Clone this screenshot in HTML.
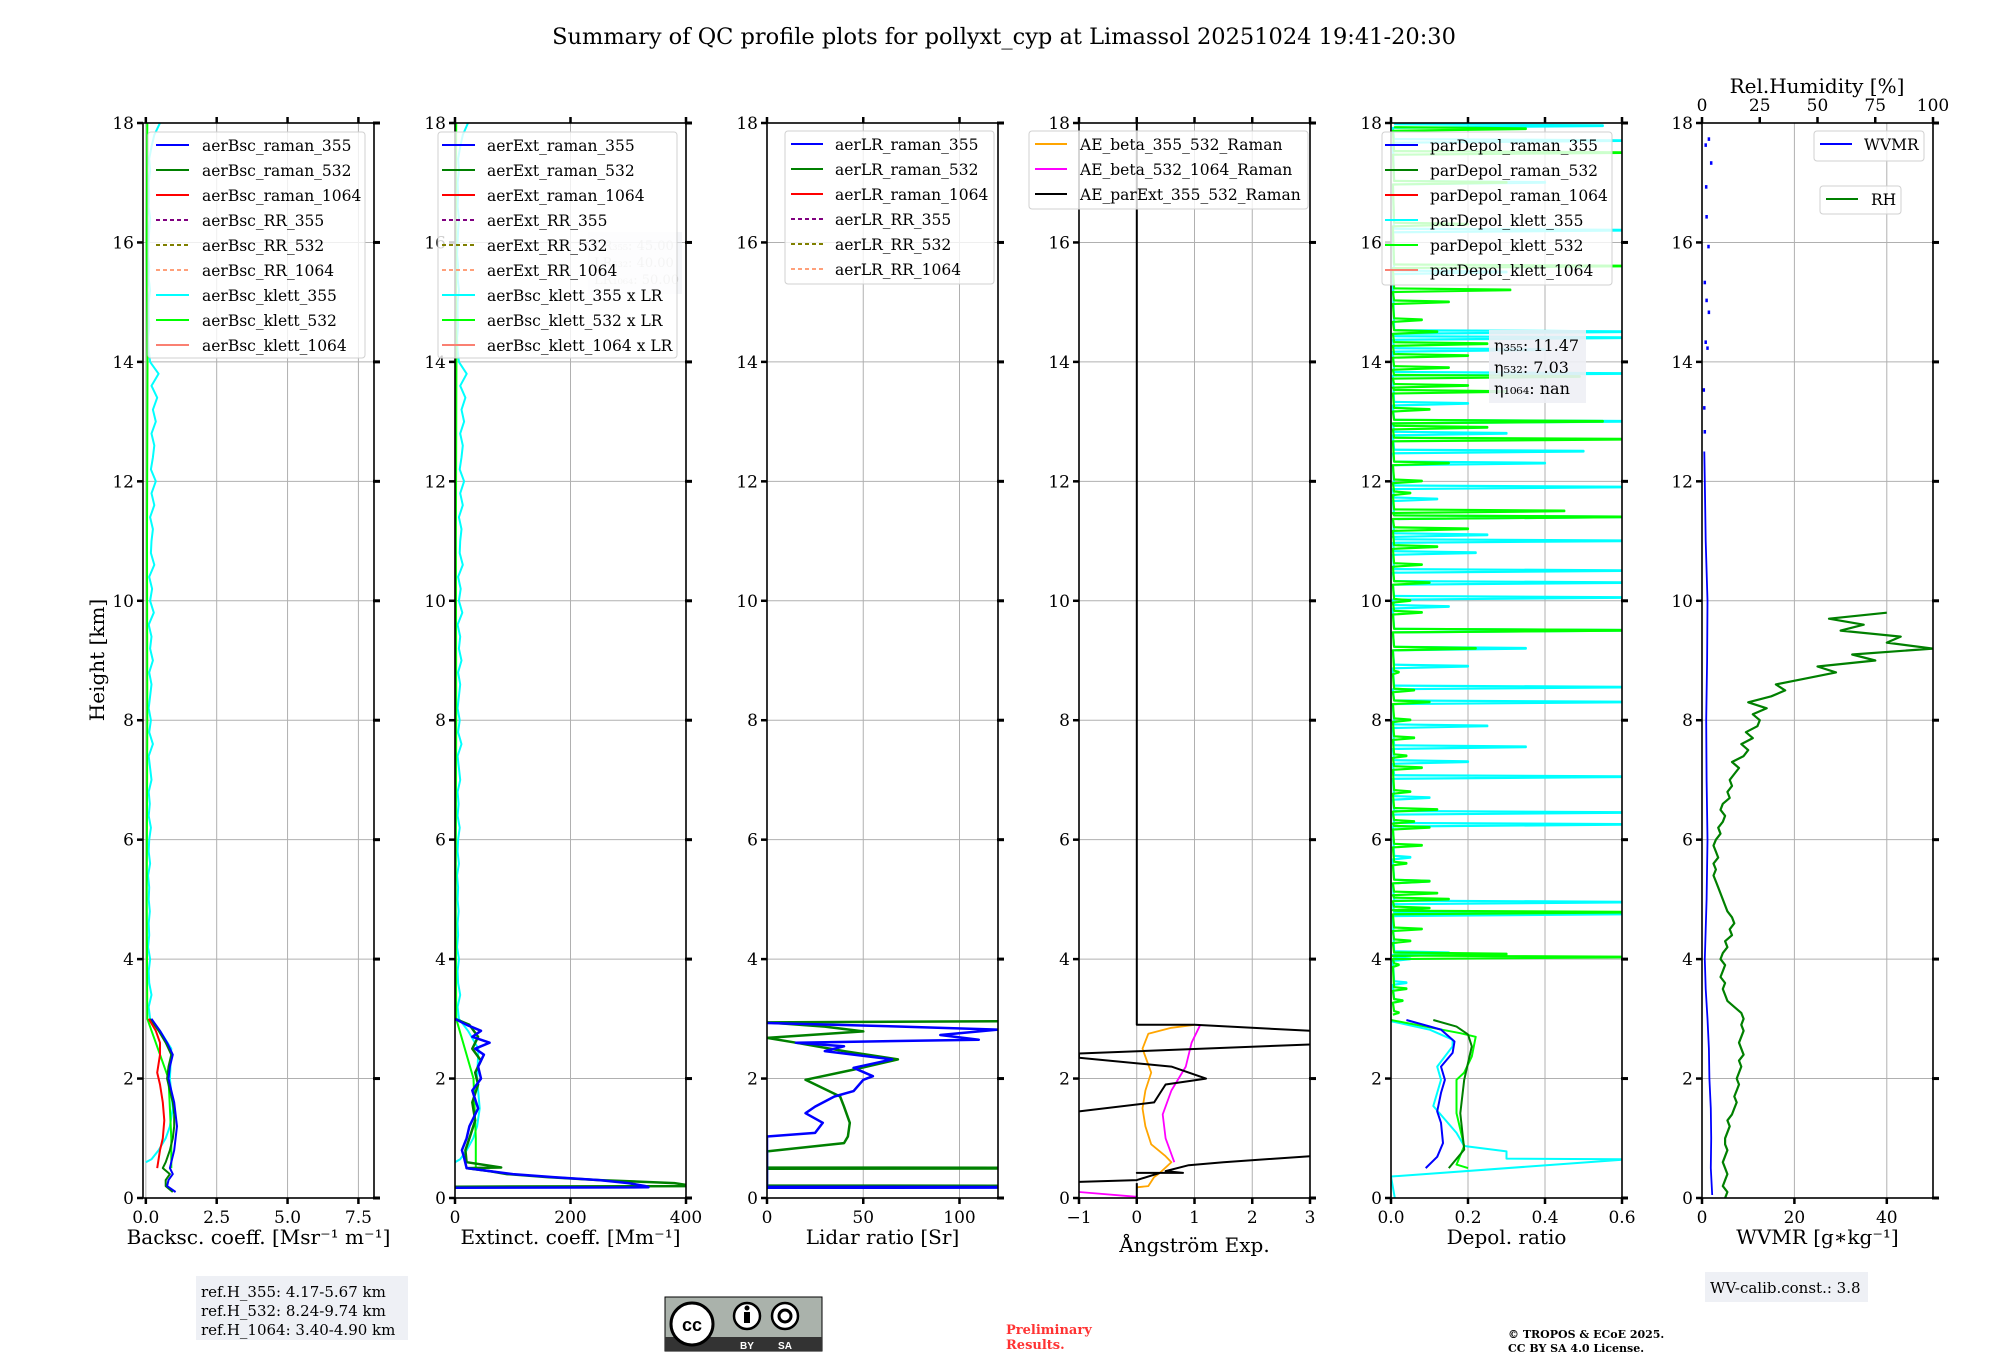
<!DOCTYPE html>
<html><head><meta charset="utf-8">
<style>
html,body{margin:0;padding:0;background:#fff;}
svg{display:block;font-family:"DejaVu Serif","Liberation Serif",serif;}
</style></head>
<body>
<svg id="fig" width="2000" height="1360" viewBox="0 0 2000 1360" xmlns="http://www.w3.org/2000/svg">
<rect x="0" y="0" width="2000" height="1360" fill="#fff"/>
<text x="1004" y="44" font-size="22.5" text-anchor="middle">Summary of QC profile plots for pollyxt_cyp at Limassol 20251024 19:41-20:30</text>
<text transform="translate(104,660) rotate(-90)" font-size="20" text-anchor="middle">Height [km]</text>
<g id="plots"></g>
<rect x="196" y="1276" width="212" height="64" fill="#eef0f5"/>
<text x="201" y="1297" font-size="15">ref.H_355: 4.17-5.67 km</text>
<text x="201" y="1316" font-size="15">ref.H_532: 8.24-9.74 km</text>
<text x="201" y="1335" font-size="15">ref.H_1064: 3.40-4.90 km</text>
<g>
<rect x="665" y="1297" width="157" height="54" fill="#aab2ab" stroke="#000" stroke-width="1"/>
<rect x="665" y="1337" width="157" height="14" fill="#333"/>
<circle cx="692" cy="1324" r="21" fill="#fff" stroke="#000" stroke-width="3"/>
<text x="692" y="1331" font-size="18" font-weight="bold" text-anchor="middle" font-family="Liberation Sans, sans-serif">cc</text>
<circle cx="747" cy="1316" r="13" fill="#fff" stroke="#000" stroke-width="2.5"/>
<circle cx="747" cy="1308" r="2.5" fill="#000"/><rect x="744" y="1312" width="6" height="11" fill="#000"/>
<circle cx="785" cy="1316" r="13" fill="#fff" stroke="#000" stroke-width="2.5"/>
<circle cx="785" cy="1316" r="6" fill="none" stroke="#000" stroke-width="3"/>
<text x="747" y="1349" font-size="10" fill="#fff" text-anchor="middle" font-family="Liberation Sans, sans-serif" font-weight="bold">BY</text>
<text x="785" y="1349" font-size="10" fill="#fff" text-anchor="middle" font-family="Liberation Sans, sans-serif" font-weight="bold">SA</text>
</g>
<text x="1006" y="1334" font-size="13" font-weight="bold" fill="#ff3333">Preliminary</text>
<text x="1006" y="1349" font-size="13" font-weight="bold" fill="#ff3333">Results.</text>
<text x="1508" y="1338" font-size="11" font-weight="bold">© TROPOS &amp; ECoE 2025.</text>
<text x="1508" y="1352" font-size="11" font-weight="bold">CC BY SA 4.0 License.</text>
<rect x="1705" y="1272" width="163" height="30" fill="#eef0f5"/>
<text x="1710" y="1293" font-size="15">WV-calib.const.: 3.8</text>
</svg>
<script>
const yTicks=[0,2,4,6,8,10,12,14,16,18];
const klettLowH=[0.6,0.65,0.8,1.0,1.2,1.5,2.0,2.5,2.8,3.0];
const klettLowV=[0.0,0.2,0.45,0.7,0.85,0.95,0.85,0.9,0.5,0.15];
const klettUpV=[0.15,0.1,0.2,0.12,0.1,0.15,0.08,0.12,0.1,0.14,0.1,0.12,0.08,0.15,0.1,0.12,0.18,0.1,0.14,0.1,0.2,0.15,0.1,0.25,0.12,0.18,0.1,0.15,0.2,0.12,0.25,0.15,0.2,0.1,0.28,0.15,0.22,0.12,0.3,0.18,0.2,0.25,0.15,0.3,0.2,0.35,0.18,0.25,0.3,0.2,0.35,0.25,0.4,0.2,0.45,0.15,0.1,0.08,0.12,0.1,0.1,0.15,0.1,0.12,0.08,0.1,0.12,0.15,0.1,0.12,0.1,0.15,0.12,0.2,0.3,0.5];
const bscRaman355H=[0.1,0.2,0.3,0.4,0.5,0.6,0.8,1.0,1.2,1.4,1.6,1.8,2.0,2.2,2.4,2.6,2.8,3.0];
const bscRaman355V=[1.05,0.75,0.8,0.95,0.85,0.9,1.0,1.05,1.1,1.05,1.0,0.9,0.8,0.85,0.95,0.75,0.5,0.2];
const bscRaman532V=[0.95,0.7,0.7,0.85,0.6,0.7,0.85,0.95,1.0,1.0,0.95,0.85,0.75,0.8,0.9,0.7,0.45,0.15];
const bscRaman1064H=[0.5,0.8,1.0,1.3,1.6,1.9,2.1,2.4,2.6,2.8,3.0];
const bscRaman1064V=[0.4,0.5,0.6,0.65,0.6,0.5,0.4,0.5,0.5,0.35,0.1];
const bscKlett532H=[0.5,1.0,2.0,3.0,5.0,8.0,11.0,14.0,16.0,18.0];
const bscKlett532V=[0.9,0.9,0.8,0.05,0.03,0.05,0.04,0.06,0.03,0.05];
const LR355=45;
const ext355H=[0.17,0.18,0.2,0.25,0.3,0.35,0.4,0.45,0.5,0.7,0.8,1.0,1.2,1.5,1.8,2.0,2.2,2.4,2.5,2.6,2.7,2.8,2.9,3.0];
const ext355V=[0,335,330,300,250,170,100,60,20,15,12,20,25,40,30,45,40,50,35,60,30,45,20,0];
const ext532H=[0.19,0.2,0.22,0.25,0.3,0.35,0.4,0.45,0.5,0.51,0.6,0.8,1.0,1.3,1.6,1.9,2.1,2.3,2.5,2.7,2.9,3.0];
const ext532V=[0,400,400,380,250,160,90,60,20,80,20,18,25,35,30,40,35,45,30,40,25,0];
const lr355H=[0.17,0.18,0.19,1.03,1.09,1.26,1.42,1.53,1.7,1.79,1.98,2.04,2.18,2.32,2.46,2.54,2.6,2.65,2.73,2.82,2.87,2.93];
const lr355V=[0,300,0,0,25,29,20,25,35,45,50,55,45,65,30,40,15,110,90,120,70,0];
const lr532H=[0.19,0.2,0.21,0.49,0.5,0.51,0.78,0.92,1.03,1.26,1.53,1.7,1.98,2.15,2.32,2.46,2.6,2.68,2.79,2.87,2.94,2.96];
const lr532V=[0,300,0,0,300,0,0,40,42,43,40,38,20,45,68,40,15,0,50,30,0,120];
const aeExtH=[18,2.9,2.9,2.8,2.6,2.57,2.42,2.35,2.2,2.0,1.9,1.75,1.6,1.45,1.4,0.27,0.3,0.42,0.42,0.42,0.45,0.55,0.6,0.7,0.72];
const aeExtV=[0,0,1.0,3.0,6,3.0,-1,-1,0.6,1.2,0.5,0.4,0.3,-1,-2,-1,0,0.4,0.0,0.8,0.5,0.9,1.5,3.0,4];
const ae355532H=[0.18,0.2,0.35,0.42,0.6,0.7,0.9,1.2,1.5,1.8,2.1,2.5,2.75,2.85,2.9];
const ae355532V=[0,0.2,0.3,0.4,0.6,0.5,0.25,0.15,0.1,0.15,0.25,0.1,0.2,0.6,1.0];
const ae5321064H=[0.1,0.02,0.02,0.6,1.0,1.4,1.8,2.2,2.6,2.9];
const ae5321064V=[-1,0,null,0.65,0.5,0.45,0.6,0.85,0.95,1.1];
const pd355H=[0.5,0.69,0.92,1.26,1.45,1.76,1.98,2.2,2.43,2.62,2.82,2.98];
const pd355V=[0.09,0.12,0.135,0.13,0.12,0.13,0.14,0.13,0.16,0.165,0.13,0.04];
const pd532H=[0.5,0.81,1.42,1.98,2.26,2.54,2.74,2.87,2.98];
const pd532V=[0.15,0.19,0.18,0.19,0.2,0.21,0.2,0.17,0.11];
const pdK355H=[0.0,0.36,0.64,0.65,0.66,0.78,0.87,1.09,1.54,1.98,2.2,2.54,2.65,2.82,2.96];
const pdK355V=[0.01,0.0,0.6,0.6,0.3,0.3,0.19,0.17,0.11,0.13,0.12,0.16,0.16,0.1,0.0];
const pdK532H=[0.5,0.56,0.87,1.42,1.98,2.1,2.37,2.7,2.76,2.98];
const pdK532V=[0.2,0.17,0.19,0.17,0.17,0.19,0.21,0.22,0.18,0.0];
const limeSpikeH=[3.1,3.3,3.5,3.9,4.03,4.08,4.3,4.5,4.78,4.85,5.0,5.1,5.3,5.6,5.9,6.2,6.3,6.5,6.8,7.2,7.4,7.7,8.0,8.3,8.5,8.8,9.2,9.5,9.8,10.0,10.3,10.6,10.9,11.2,11.4,11.5,11.8,12.0,12.3,12.7,12.9,13.0,13.2,13.5,13.6,13.75,13.9,14.1,14.3,14.5,14.7,15.0,15.2,15.6,16.3,17.0,17.5,17.9];
const limeSpikeV=[0.02,0.03,0.04,0.02,0.6,0.3,0.05,0.08,0.6,0.1,0.15,0.12,0.1,0.04,0.08,0.1,0.06,0.12,0.05,0.08,0.04,0.06,0.05,0.1,0.06,0.02,0.22,0.6,0.08,0.05,0.1,0.08,0.12,0.2,0.6,0.45,0.05,0.08,0.15,0.6,0.25,0.55,0.1,0.3,0.2,0.49,0.15,0.2,0.25,0.12,0.08,0.15,0.31,0.6,0.2,0.3,0.6,0.35];
const cyanSpikeH=[3.3,3.6,4.0,4.1,4.75,4.95,5.3,5.7,6.25,6.45,6.7,7.05,7.3,7.55,7.9,8.3,8.55,8.9,9.2,9.5,9.9,10.05,10.3,10.5,10.8,11.0,11.1,11.4,11.7,11.9,12.3,12.5,12.8,13.0,13.3,13.8,14.2,14.4,14.5,15.5,16.2,17.0,17.7,17.95];
const cyanSpikeV=[0.03,0.04,0.05,0.15,0.6,0.6,0.1,0.05,0.6,0.6,0.1,0.6,0.2,0.35,0.25,0.6,0.6,0.2,0.35,0.6,0.15,0.6,0.6,0.6,0.22,0.6,0.25,0.6,0.12,0.6,0.4,0.5,0.3,0.6,0.2,0.6,0.4,0.6,0.6,0.3,0.6,0.4,0.6,0.55];
const wvmrH=[0.05,0.5,1.0,1.5,2.0,2.5,3.0,3.5,4.0,4.5,5.0,6.0,7.0,8.0,9.0,10.0,11.0,12.0,12.5];
const wvmrV=[2.2,1.9,2.0,1.9,1.6,1.5,1.2,0.8,0.6,0.8,1.0,1.2,1.0,0.9,1.1,1.2,0.8,0.6,0.5];
const wvmrSparseH=[12.8,13.2,13.5,14.2,14.3,14.8,15.0,15.3,15.9,16.4,16.9,17.3,17.6,17.7];
const wvmrSparseV=[0.6,0.5,0.4,1.2,0.8,1.5,1.0,0.6,1.4,1.0,0.9,2.0,0.8,1.5];
const rhV=[10,11,9,10,11,10,9,10,11,10,10,11,12,11,13,14,15,14,15,16,15,16,17,16,18,17,16,17,18,17,18,17,14,11,10,9,10,8,9,10,8,9,11,10,13,12,14,13,11,10,9,8,7,6,5,6,5,7,6,5,6,8,7,9,10,8,9,12,11,13,12,14,16,13,18,20,17,22,19,24,25,22,28,20,30,36,32,45,58,50,75,65,100,80,86,60,70,55,80];

const SVGNS="http://www.w3.org/2000/svg";
const root=document.getElementById('plots');
const LEFTS=[143,455,767,1079,1391,1702], PW=231, TOP=123, BOT=1198;
const KM=(BOT-TOP)/18;
function el(tag,attrs,parent){const e=document.createElementNS(SVGNS,tag);for(const k in attrs)e.setAttribute(k,attrs[k]);(parent||root).appendChild(e);return e;}
function py(h){return BOT-h*KM;}

const panels=[
 {xmin:-0.1,xmax:8.05,ticks:[0,2.5,5,7.5],labels:["0.0","2.5","5.0","7.5"],xlabel:"Backsc. coeff. [Msr⁻¹ m⁻¹]",name:"backscatter"},
 {xmin:0,xmax:400,ticks:[0,200,400],labels:["0","200","400"],xlabel:"Extinct. coeff. [Mm⁻¹]",name:"extinction"},
 {xmin:0,xmax:120,ticks:[0,50,100],labels:["0","50","100"],xlabel:"Lidar ratio [Sr]",name:"lidar-ratio"},
 {xmin:-1,xmax:3,ticks:[-1,0,1,2,3],labels:["−1","0","1","2","3"],xlabel:"Ångström Exp.",name:"angstrom"},
 {xmin:0,xmax:0.6,ticks:[0,0.2,0.4,0.6],labels:["0.0","0.2","0.4","0.6"],xlabel:"Depol. ratio",name:"depol"},
 {xmin:0,xmax:50,ticks:[0,20,40],labels:["0","20","40"],xlabel:"WVMR [g∗kg⁻¹]",name:"wvmr"}
];
const P=panels.map((c,i)=>{c.left=LEFTS[i];c.px=x=>c.left+(x-c.xmin)/(c.xmax-c.xmin)*PW;return c;});

P.forEach((c,i)=>{
  const g=el('g',{});
  
  
  const cp=el('clipPath',{id:'clip'+i},g);
  el('rect',{x:c.left,y:TOP,width:PW,height:BOT-TOP},cp);
  yTicks.forEach(t=>{
    const gl=el('line',{x1:c.left,x2:c.left+PW,y1:py(t),y2:py(t),stroke:'#b0b0b0','stroke-width':1},g);
    
    
    el('line',{x1:c.left-6,x2:c.left,y1:py(t),y2:py(t),stroke:'#000','stroke-width':2.5},g);
    el('line',{x1:c.left+PW-1,x2:c.left+PW+6,y1:py(t),y2:py(t),stroke:'#000','stroke-width':3},g);
    const tl=el('text',{x:c.left-9,y:py(t)+6,'font-size':17,'text-anchor':'end'},g);
    tl.textContent=String(t);
    
    
  });
  c.ticks.forEach((t,k)=>{
    const x=c.px(t);
    const gl=el('line',{x1:x,x2:x,y1:TOP,y2:BOT,stroke:'#b0b0b0','stroke-width':1},g);
    
    
    el('line',{x1:x,x2:x,y1:BOT,y2:BOT+6,stroke:'#000','stroke-width':2.5},g);
    if(i!==5) el('line',{x1:x,x2:x,y1:TOP-6,y2:TOP,stroke:'#000','stroke-width':2.5},g);
    const tl=el('text',{x:x,y:BOT+25,'font-size':17,'text-anchor':'middle'},g);
    tl.textContent=c.labels[k];
    
    
  });
  const xl=el('text',{x:c.left+PW/2,y:(i===3)?1252:1244,'font-size':20,'text-anchor':'middle'},g);
  xl.textContent=c.xlabel;
  
  
  c.series=el('g',{'clip-path':'url(#clip'+i+')'},g);
  c.frame=g;
});

function line(ci,hs,vs,color,w,name,extra){
  const c=P[ci];let d='',pen=false;
  for(let k=0;k<hs.length;k++){
    if(vs[k]===null){pen=false;continue;}
    d+=(pen?'L':'M')+c.px(vs[k]).toFixed(1)+' '+py(hs[k]).toFixed(1);pen=true;
  }
  const p=el('path',Object.assign({d:d,fill:'none',stroke:color,'stroke-width':w||2,'stroke-linejoin':'round'},extra||{}),c.series);
  
  
  return p;
}
function spikes(ci,hs,vs,color,name){
  const H=[],V=[];
  for(let k=0;k<hs.length;k++){H.push(hs[k]-0.03,hs[k],hs[k]+0.01,hs[k]+0.03);V.push(0.005,vs[k],vs[k],0.008);}
  return line(ci,H,V,color,2.2,name);
}

const klettH=klettLowH.slice(), klettV=klettLowV.slice();
for(let k=1;k<klettUpV.length;k++){klettH.push(3.0+k*0.2);klettV.push(klettUpV[k]);}
line(0,klettH,klettV,'#00ffff',2,'bsc-klett-355-line');
line(0,bscKlett532H,bscKlett532V,'#00ff00',2,'bsc-klett-532-line');
line(0,bscRaman355H,bscRaman532V,'#008000',2,'bsc-raman-532-line');
line(0,bscRaman355H,bscRaman355V,'#0000ff',2,'bsc-raman-355-line');
line(0,bscRaman1064H,bscRaman1064V,'#ff0000',2,'bsc-raman-1064-line');
line(1,klettH,klettV.map(v=>v*LR355),'#00ffff',2,'ext-klett-355-line');
line(1,bscKlett532H,bscKlett532V.map(v=>v*40),'#00ff00',2,'ext-klett-532-line');
line(1,ext532H,ext532V,'#008000',2.5,'ext-raman-532-line');
line(1,ext355H,ext355V,'#0000ff',2.5,'ext-raman-355-line');
line(2,lr532H,lr532V,'#008000',2.5,'lr-raman-532-line');
line(2,lr355H,lr355V,'#0000ff',2.5,'lr-raman-355-line');
line(3,ae355532H,ae355532V,'#ffa500',1.8,'ae-beta-355-532-line');
line(3,ae5321064H,ae5321064V,'#ff00ff',1.8,'ae-beta-532-1064-line');
line(3,aeExtH,aeExtV,'#000000',2,'ae-parext-355-532-line');
line(3,[0,0.25],[0,0],'#000',2,'ae-parext-low-segment');
spikes(4,cyanSpikeH,cyanSpikeV,'#00ffff','depol-klett-355-spikes');
spikes(4,limeSpikeH,limeSpikeV,'#00ff00','depol-klett-532-spikes');
line(4,pdK355H,pdK355V,'#00ffff',2,'depol-klett-355-line');
line(4,pdK532H,pdK532V,'#00ff00',2,'depol-klett-532-line');
line(4,pd532H,pd532V,'#008000',2,'depol-raman-532-line');
line(4,pd355H,pd355V,'#0000ff',2,'depol-raman-355-line');
line(5,wvmrH,wvmrV,'#0000ff',1.8,'wvmr-line');
wvmrSparseH.forEach((h,k)=>{line(5,[h,h+0.06],[wvmrSparseV[k],wvmrSparseV[k]],'#0000ff',2.5,'wvmr-fragment');});
const rhH=rhV.map((_,k)=>k*0.1);
line(5,rhH,rhV.map(v=>v/2),'#008000',2.2,'rh-line');

P.forEach((c,i)=>{
  const f=el('rect',{x:c.left,y:TOP,width:PW,height:BOT-TOP,fill:'none',stroke:'#000','stroke-width':1.6},c.frame);
  
  
});
const rhTicks=[0,25,50,75,100];
rhTicks.forEach(t=>{
  const x=LEFTS[5]+t/100*PW;
  el('line',{x1:x,x2:x,y1:TOP-6,y2:TOP,stroke:'#000','stroke-width':2.5});
  const tl=el('text',{x:x,y:TOP-12,'font-size':17,'text-anchor':'middle'});
  tl.textContent=String(t);
  
  
});
const rht=el('text',{x:1817,y:93,'font-size':20,'text-anchor':'middle'});
rht.textContent='Rel.Humidity [%]';



function legend(x,y,w,h,entries,name,lineX0,lineX1,textX){
  const g=el('g',{});
  
  
  el('rect',{x:x,y:y,width:w,height:h,rx:3,fill:'#fff','fill-opacity':0.8,stroke:'#d0d0d0','stroke-width':1},g);
  entries.forEach((e,k)=>{
    const cy=y+13+k*25;
    const ln=el('line',{x1:lineX0,x2:lineX1,y1:cy,y2:cy,stroke:e[1],'stroke-width':2},g);
    if(e[2])ln.setAttribute('stroke-dasharray','4 3');
    
    
    const t=el('text',{x:textX,y:cy+6,'font-size':15.5},g);
    t.textContent=e[0];
    
    
  });
}
legend(148,132,217,226,[["aerBsc_raman_355","#0000ff"],["aerBsc_raman_532","#008000"],["aerBsc_raman_1064","#ff0000"],["aerBsc_RR_355","#800080",1],["aerBsc_RR_532","#808000",1],["aerBsc_RR_1064","#ffa07a",1],["aerBsc_klett_355","#00ffff"],["aerBsc_klett_532","#00ff00"],["aerBsc_klett_1064","#fa8072"]],'backscatter-legend',156,189,202);
el('rect',{x:588,y:232,width:94,height:62,fill:'#eef0f5','fill-opacity':0.6});
[["LR₃₅₅: 45.00",250],["LR₅₃₂: 40.00",267],["LR₁₀₆₄: 50.00",284]].forEach(a=>{
  const t=el('text',{x:594,y:a[1],'font-size':13,fill:'#c8c8c8'});
  t.textContent=a[0];
  
  
});
legend(438,132,239,226,[["aerExt_raman_355","#0000ff"],["aerExt_raman_532","#008000"],["aerExt_raman_1064","#ff0000"],["aerExt_RR_355","#800080",1],["aerExt_RR_532","#808000",1],["aerExt_RR_1064","#ffa07a",1],["aerBsc_klett_355 x LR","#00ffff"],["aerBsc_klett_532 x LR","#00ff00"],["aerBsc_klett_1064 x LR","#fa8072"]],'extinction-legend',442,475,487);
legend(785,131,209,153,[["aerLR_raman_355","#0000ff"],["aerLR_raman_532","#008000"],["aerLR_raman_1064","#ff0000"],["aerLR_RR_355","#800080",1],["aerLR_RR_532","#808000",1],["aerLR_RR_1064","#ffa07a",1]],'lidar-ratio-legend',791,823,835);
legend(1029,131,279,78,[["AE_beta_355_532_Raman","#ffa500"],["AE_beta_532_1064_Raman","#ff00ff"],["AE_parExt_355_532_Raman","#000000"]],'angstrom-legend',1035,1067,1080);
legend(1382,132,230,153,[["parDepol_raman_355","#0000ff"],["parDepol_raman_532","#008000"],["parDepol_raman_1064","#ff0000"],["parDepol_klett_355","#00ffff"],["parDepol_klett_532","#00ff00"],["parDepol_klett_1064","#fa8072"]],'depol-legend',1385,1418,1430);
el('rect',{x:1489,y:330,width:97,height:73,fill:'#eef0f5','fill-opacity':0.9});
[["η₃₅₅: 11.47",351],["η₅₃₂: 7.03",373],["η₁₀₆₄: nan",394]].forEach(a=>{
  const t=el('text',{x:1494,y:a[1],'font-size':16});
  t.textContent=a[0];
  
  
});
legend(1814,131,110,30,[["WVMR","#0000ff"]],'wvmr-legend',1820,1852,1864);
legend(1820,186,81,28,[["RH","#008000"]],'rh-legend',1826,1858,1871);
</script>
</body></html>
